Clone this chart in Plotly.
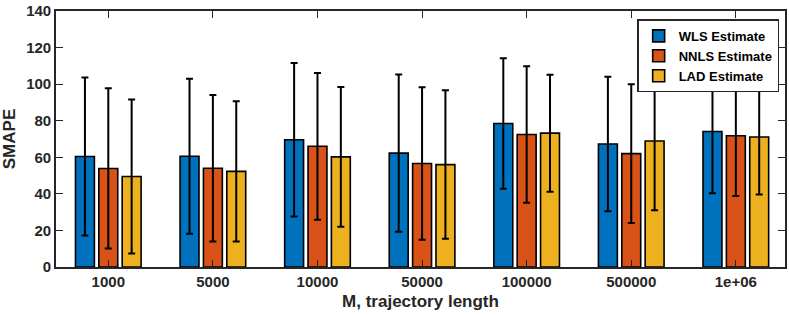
import plotly.graph_objects as go

categories = ["1000", "5000", "10000", "50000", "100000", "500000", "1e+06"]
series_names = ["WLS Estimate", "NNLS Estimate", "LAD Estimate"]

wls_mean = [60.4, 60.6, 69.6, 62.3, 78.5, 67.3, 74.1]
nnls_mean = [53.9, 54.0, 66.0, 56.6, 72.5, 62.0, 71.8]
lad_mean = [49.5, 52.3, 60.2, 56.0, 73.2, 68.9, 71.1]

wls_err = [43.2, 42.4, 42.0, 43.0, 35.7, 36.8, 33.8]
nnls_err = [43.8, 40.0, 40.1, 41.7, 37.3, 37.9, 33.0]
lad_err = [42.1, 38.4, 38.2, 40.6, 32.0, 37.8, 31.5]

colors = ["#0072BD", "#D95319", "#EDB120"]

fig = go.Figure()
for name, mean, err, col in zip(series_names,
                                [wls_mean, nnls_mean, lad_mean],
                                [wls_err, nnls_err, lad_err],
                                colors):
    fig.add_trace(go.Bar(
        x=categories, y=mean, name=name,
        marker=dict(color=col, line=dict(color="#000000", width=1.6)),
        error_y=dict(type="data", array=err, visible=True,
                     color="#000000", thickness=2, width=3.5),
    ))

font_family = "Liberation Sans, Arial, Helvetica, sans-serif"
axis_color = "#262626"

fig.update_layout(
    width=789, height=316,
    margin=dict(l=56, r=2, t=9, b=49),
    paper_bgcolor="white", plot_bgcolor="white",
    barmode="group", bargap=0.33, bargroupgap=0.19,
    font=dict(family=font_family, size=15, color=axis_color, weight="bold"),
    showlegend=True,
    legend=dict(
        x=0.992, xanchor="right", y=0.967, yanchor="top",
        bgcolor="white", bordercolor=axis_color, borderwidth=1.5,
        font=dict(family=font_family, size=13, color="#000000", weight="bold"),
        tracegroupgap=0, itemwidth=30,
    ),
    xaxis=dict(
        type="category", range=[-0.5, 6.47],
        showline=True, linecolor=axis_color, linewidth=1.6, mirror="ticks",
        ticks="inside", ticklen=7, tickwidth=1.3, tickcolor=axis_color,
        showgrid=False, zeroline=False, layer="above traces",
        title=dict(text="M, trajectory length",
                   font=dict(family=font_family, size=17, color=axis_color, weight="bold"),
                   standoff=6),
        tickfont=dict(family=font_family, size=15, color=axis_color, weight="bold"),
    ),
    yaxis=dict(
        range=[0, 140], tickvals=[0, 20, 40, 60, 80, 100, 120, 140],
        showline=True, linecolor=axis_color, linewidth=1.6, mirror="ticks",
        ticks="inside", ticklen=7, tickwidth=1.3, tickcolor=axis_color,
        showgrid=False, zeroline=False, layer="above traces",
        title=dict(text="SMAPE",
                   font=dict(family=font_family, size=17, color=axis_color, weight="bold"),
                   standoff=8),
        tickfont=dict(family=font_family, size=15, color=axis_color, weight="bold"),
    ),
)

fig.write_html("out.html",
               config={"displayModeBar": False},
               post_script="document.body.style.margin='0';document.body.style.padding='0';")
